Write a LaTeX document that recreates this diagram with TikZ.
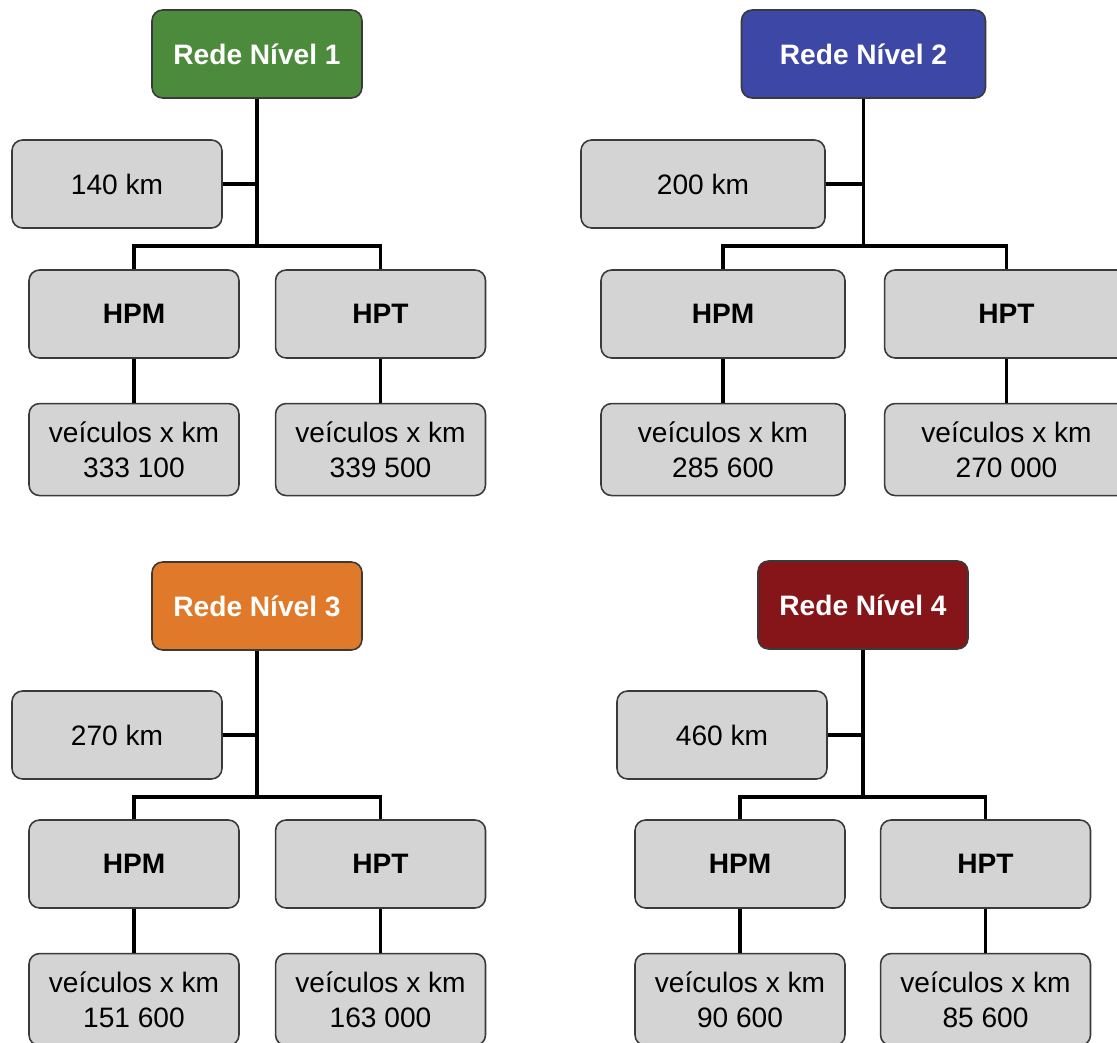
\documentclass[tikz,border=0pt]{standalone}
\usepackage{fontspec}
\setmainfont{Liberation Sans}
\usepackage{xcolor}
\usetikzlibrary{positioning}
\definecolor{nivelum}{HTML}{4C8B3B}
\definecolor{niveldois}{HTML}{3C47A6}
\definecolor{niveltres}{HTML}{E07A2A}
\definecolor{nivelquatro}{HTML}{861519}
\definecolor{caixa}{HTML}{D4D4D4}
\definecolor{borda}{HTML}{3A3A3A}

\begin{document}
\begin{tikzpicture}[
    x=0.02cm, y=-0.02cm,
    box/.style={draw=borda, fill=caixa, rounded corners=6pt, line width=0.9pt,
                minimum width=4.2cm, minimum height=1.76cm, inner sep=0pt,
                align=center, font=\fontsize{16}{20}\selectfont},
    wide/.style={minimum width=4.88cm},
    rede/.style={box, text=white, font=\fontsize{16}{20}\selectfont\bfseries},
    hora/.style={box, font=\fontsize{16}{20}\selectfont\bfseries},
    valor/.style={box, minimum height=1.84cm},
    link/.style={line width=1.8pt},
]
    \useasboundingbox (0,0) rectangle (1117,1043);

    % Rede Nivel 1
    \node[rede, fill=nivelum] (r1) at (257,54) {Rede Nível 1};
    \node[box] (k1) at (117,184) {140 km};
    \node[hora] (hpm1) at (134,314) {HPM};
    \node[hora, right=0.7cm of hpm1] (hpt1) {HPT};
    \node[valor, below=0.88cm of hpm1] (vm1) {veículos x km\\333 100};
    \node[valor, below=0.88cm of hpt1] (vt1) {veículos x km\\339 500};
    \coordinate (b1) at (257,246);
    \draw[link] (r1.south) -- (b1);
    \draw[link] (k1.east) -- (k1.east -| r1.south);
    \draw[link] (hpm1.north) |- (b1) -| (hpt1.north);
    \draw[link] (hpm1.south) -- (vm1.north);
    \draw[link] (hpt1.south) -- (vt1.north);

    % Rede Nivel 2
    \node[rede, wide, fill=niveldois] (r2) at (863.5,54) {Rede Nível 2};
    \node[box, wide] (k2) at (703,184) {200 km};
    \node[hora, wide] (hpm2) at (723,314) {HPM};
    \node[hora, wide, right=0.76cm of hpm2] (hpt2) {HPT};
    \node[valor, wide, below=0.88cm of hpm2] (vm2) {veículos x km\\285 600};
    \node[valor, wide, below=0.88cm of hpt2] (vt2) {veículos x km\\270 000};
    \coordinate (b2) at (863.5,246);
    \draw[link] (r2.south) -- (b2);
    \draw[link] (k2.east) -- (k2.east -| r2.south);
    \draw[link] (hpm2.north) |- (b2) -| (hpt2.north);
    \draw[link] (hpm2.south) -- (vm2.north);
    \draw[link] (hpt2.south) -- (vt2.north);

    % Rede Nivel 3
    \node[rede, fill=niveltres] (r3) at (257,606) {Rede Nível 3};
    \node[box] (k3) at (117,735) {270 km};
    \node[hora] (hpm3) at (134,864) {HPM};
    \node[hora, right=0.7cm of hpm3] (hpt3) {HPT};
    \node[valor, below=0.88cm of hpm3] (vm3) {veículos x km\\151 600};
    \node[valor, below=0.88cm of hpt3] (vt3) {veículos x km\\163 000};
    \coordinate (b3) at (257,797);
    \draw[link] (r3.south) -- (b3);
    \draw[link] (k3.east) -- (k3.east -| r3.south);
    \draw[link] (hpm3.north) |- (b3) -| (hpt3.north);
    \draw[link] (hpm3.south) -- (vm3.north);
    \draw[link] (hpt3.south) -- (vt3.north);

    % Rede Nivel 4
    \node[rede, fill=nivelquatro] (r4) at (863,605) {Rede Nível 4};
    \node[box] (k4) at (722,735) {460 km};
    \node[hora] (hpm4) at (740,864) {HPM};
    \node[hora, right=0.68cm of hpm4] (hpt4) {HPT};
    \node[valor, below=0.88cm of hpm4] (vm4) {veículos x km\\90 600};
    \node[valor, below=0.88cm of hpt4] (vt4) {veículos x km\\85 600};
    \coordinate (b4) at (863,797);
    \draw[link] (r4.south) -- (b4);
    \draw[link] (k4.east) -- (k4.east -| r4.south);
    \draw[link] (hpm4.north) |- (b4) -| (hpt4.north);
    \draw[link] (hpm4.south) -- (vm4.north);
    \draw[link] (hpt4.south) -- (vt4.north);
\end{tikzpicture}
\end{document}
